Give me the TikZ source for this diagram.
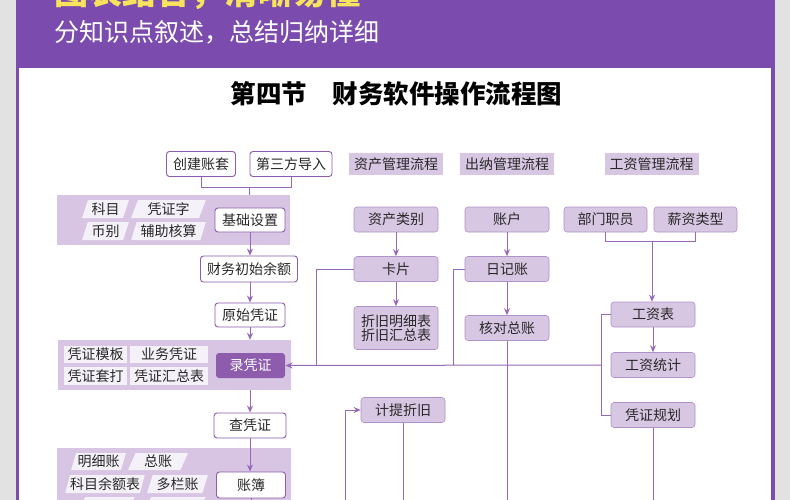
\documentclass[tikz,border=0pt]{standalone}
\usepackage{fontspec}
\setmainfont{Noto Sans CJK SC}
\usetikzlibrary{arrows.meta,shapes.geometric}
\definecolor{pagegrey}{RGB}{226,226,226}
\definecolor{framepurple}{RGB}{123,76,173}
\definecolor{linkpurple}{RGB}{152,104,184}
\definecolor{boxpurple}{RGB}{216,199,227}
\definecolor{edgepurple}{RGB}{176,146,200}
\definecolor{bandpurple}{RGB}{215,197,227}
\definecolor{tagwhite}{RGB}{245,241,248}
\definecolor{inkpurple}{RGB}{141,92,172}
\definecolor{headyellow}{RGB}{248,228,92}
\definecolor{textgrey}{RGB}{40,40,40}
\newcommand{\boxfont}{\fontsize{14pt}{16pt}\selectfont}

\tikzset{
  link/.style={linkpurple,line width=1pt},
  arr/.style={link,-{Stealth[length=7pt,width=6pt]}},
  wbox/.style={draw=inkpurple,line width=0.9pt,fill=white,rounded corners=3pt,
    minimum height=25pt,inner sep=0pt,text=textgrey,font=\boxfont},
  pbox/.style={wbox,draw=edgepurple,line width=0.6pt,fill=boxpurple,minimum width=84pt},
  lubox/.style={wbox,draw=none,fill=inkpurple,text=white},
  headbox/.style={fill=boxpurple,minimum width=94pt,minimum height=22pt,
    inner sep=0pt,text=textgrey,font=\boxfont},
  band/.style={fill=bandpurple,inner sep=0pt},
  tagbox/.style={trapezium,trapezium left angle=70,trapezium right angle=110,
    trapezium stretches=true,fill=tagwhite,minimum height=18pt,inner sep=0pt,
    text=textgrey,font=\boxfont},
  tagrect/.style={rectangle,fill=tagwhite,minimum height=18pt,inner sep=0pt,
    text=textgrey,font=\boxfont}
}

\begin{document}
\begin{tikzpicture}[x=1pt,y=-1pt]
    \useasboundingbox (0,0) rectangle (790,500);
    % Page and frame
    \fill[pagegrey] (0,0) rectangle (790,500);
    \fill[framepurple] (16,-5) rectangle (775,505);
    \fill[white] (19,68) rectangle (771,505);

    % Banner texts
    \node[anchor=base west,inner sep=0pt,text=headyellow,
      font=\fontsize{34pt}{36pt}\selectfont\bfseries] (slogan) at (54,5)
      {图表结合，清晰易懂};
    \node[anchor=base west,inner sep=0pt,text=white,
      font=\fontsize{25pt}{27pt}\selectfont] (subline) at (54,41.5)
      {分知识点叙述，总结归纳详细};
    \node[anchor=base,inner sep=0pt,text=black,
      font=\fontsize{25.5pt}{27pt}\selectfont\bfseries] (title) at (396.5,104)
      {第四节　财务软件操作流程图};

    % Bands behind the main column
    \node[band,minimum width=233pt,minimum height=50pt] (band1) at (173.5,220) {};
    \node[band,minimum width=233pt,minimum height=50pt] (band2) at (174.5,365) {};
    \node[band,minimum width=234pt,minimum height=82pt] (band3) at (174,489) {};

    % Tags in the bands
    \node[tagbox,minimum width=47pt] (kemu) at (105.5,209) {科目};
    \node[tagbox,minimum width=75pt] (pzzi) at (168.5,209) {凭证字};
    \node[tagbox,minimum width=47pt] (bibie) at (105.5,231) {币别};
    \node[tagbox,minimum width=75pt] (fuzhu) at (168.5,231) {辅助核算};

    \node[tagrect,minimum width=63pt,minimum height=17pt] (moban) at (95.5,354.5) {凭证模板};
    \node[tagrect,minimum width=78pt,minimum height=17pt] (yewu) at (169,354.5) {业务凭证};
    \node[tagrect,minimum width=63pt] (taoda) at (95.5,376) {凭证套打};
    \node[tagrect,minimum width=78pt] (huizong) at (169,376) {凭证汇总表};

    \node[tagbox,minimum width=55pt,minimum height=17pt] (mingxi) at (98.5,461.5) {明细账};
    \node[tagbox,minimum width=60pt,minimum height=17pt] (zongzhang) at (158,461.5) {总账};
    \node[tagbox,minimum width=80pt] (yue) at (105,484) {科目余额表};
    \node[tagbox,minimum width=61pt] (duolan) at (177.5,484) {多栏账};
    \node[tagbox,minimum width=62pt] (tagc) at (104,506) {\phantom{账}};
    \node[tagbox,minimum width=68pt] (tagd) at (172,506) {\phantom{账}};

    % Main column
    \node[wbox,minimum width=69pt] (zhangtao) at (201,164) {创建账套};
    \node[wbox,minimum width=82pt] (daoru) at (291,164) {第三方导入};
    \node[wbox,minimum width=70pt,minimum height=24pt] (jichu) at (250,220) {基础设置};
    \node[wbox,minimum width=97pt,minimum height=26pt] (chushi) at (249,269) {财务初始余额};
    \node[wbox,minimum width=70pt,minimum height=24pt] (yuanshi) at (250,315) {原始凭证};
    \node[lubox,minimum width=69pt] (lu) at (250.5,365.5) {录凭证};
    \node[wbox,minimum width=72pt] (cha) at (250,425.5) {查凭证};
    \node[wbox,minimum width=69pt,minimum height=26pt] (zhangbu) at (251,485) {账簿};

    % Section heads
    \node[headbox] (zchead) at (396,164) {资产管理流程};
    \node[headbox] (cnhead) at (507,164) {出纳管理流程};
    \node[headbox] (gzhead) at (651.5,164) {工资管理流程};

    % Side flows
    \node[pbox] (leibie) at (396,219.5) {资产类别};
    \node[pbox] (kapian) at (396,269) {卡片};
    \node[pbox,minimum height=43pt,align=center] (zhejiu) at (396,328)
      {折旧明细表\\[-2pt]折旧汇总表};
    \node[pbox] (jiti) at (403,410) {计提折旧};
    \node[pbox] (zhanghu) at (507,219.5) {账户};
    \node[pbox] (riji) at (507,269) {日记账};
    \node[pbox] (hedui) at (507,328) {核对总账};
    \node[pbox,minimum width=83pt] (bumen) at (605.5,219.5) {部门职员};
    \node[pbox,minimum width=83pt] (xinzi) at (695.5,219.5) {薪资类型};
    \node[pbox] (gongzi) at (653,314.5) {工资表};
    \node[pbox] (tongji) at (653,365) {工资统计};
    \node[pbox] (guihua) at (653,415) {凭证规划};

    % Joints
    \coordinate (join1) at (249,187);
    \coordinate (join2) at (652,241.5);
    \coordinate (kbend) at (316,365);
    \coordinate (rbend) at (453.5,365);
    \coordinate (busR) at (601.5,365);
    \coordinate (jitiin) at (345,505);
    \coordinate (bot) at (0,505);

    % Main column links
    \draw[link] (zhangtao.south) |- (join1);
    \draw[link] (daoru.south) |- (join1);
    \draw[link] (join1) -- (join1 |- band1.north);
    \draw[arr] (jichu.south) -- (jichu.south |- chushi.north);
    \draw[arr] (chushi.south -| yuanshi) -- (yuanshi.north);
    \draw[arr] (yuanshi.south) -- (yuanshi.south |- band2.north);
    \draw[arr] (cha.north |- band2.south) -- (cha.north);
    \draw[arr] (cha.south) -- (cha.south |- zhangbu.north);

    % Side links
    \draw[arr] (leibie) -- (kapian);
    \draw[arr] (kapian) -- (zhejiu);
    \draw[arr] (zhanghu) -- (riji);
    \draw[arr] (riji) -- (hedui);
    \draw[link] (bumen.south) |- (join2);
    \draw[link] (xinzi.south) |- (join2);
    \draw[arr] (join2) -- (join2 |- gongzi.north);
    \draw[arr] (gongzi) -- (tongji);

    % Links back to the voucher entry
    \draw[link] (kapian.west) -| (kbend);
    \draw[link] (riji.west) -| (rbend);
    \draw[link] (gongzi.west) -| (busR);
    \draw[link] (guihua.west) -| (busR);
    \draw[arr] (busR) -- (lu.east);

    % Lines running off the page
    \draw[arr] (jitiin) |- (jiti.west);
    \foreach \n in {jiti,hedui,guihua,zhangbu}{
      \draw[link] (\n.south) -- (\n.south |- bot);
    }
  \end{tikzpicture}
\end{document}
